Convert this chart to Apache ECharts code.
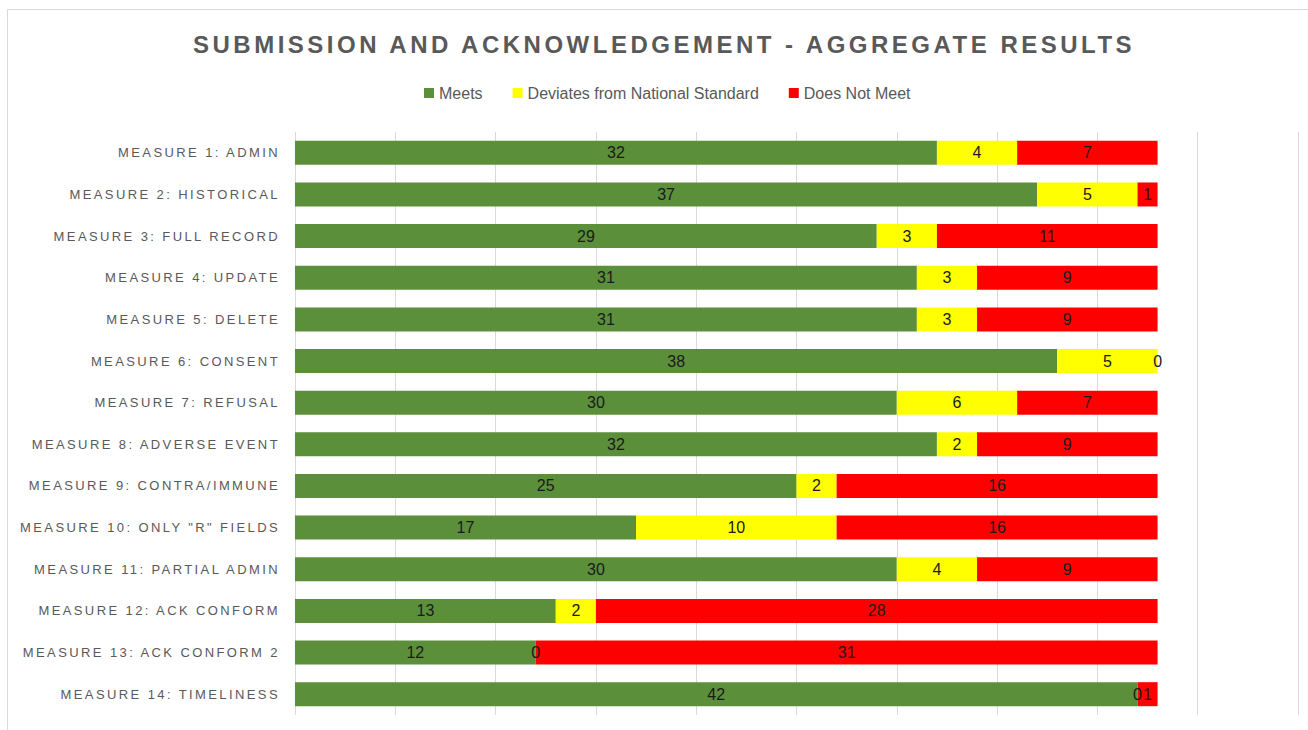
<!DOCTYPE html>
<html>
<head>
<meta charset="utf-8">
<script src="https://cdn.jsdelivr.net/npm/echarts@6/dist/echarts.min.js"></script>
<style>
  html, body { margin: 0; padding: 0; background: #fff; }
  #chart { width: 1308px; height: 730px; }
  /* letter spacing for title and category labels (svg renderer) */
  #chart text[style*="24px"] { letter-spacing: 3.5px; }
  #chart text[style*="13px"] { letter-spacing: 2.4px; }
</style>
</head>
<body>
<div id="chart"></div>
<script>
var categories = [
    'MEASURE 1: ADMIN',
    'MEASURE 2: HISTORICAL',
    'MEASURE 3: FULL RECORD',
    'MEASURE 4: UPDATE',
    'MEASURE 5: DELETE',
    'MEASURE 6: CONSENT',
    'MEASURE 7: REFUSAL',
    'MEASURE 8: ADVERSE EVENT',
    'MEASURE 9: CONTRA/IMMUNE',
    'MEASURE 10: ONLY "R" FIELDS',
    'MEASURE 11: PARTIAL ADMIN',
    'MEASURE 12: ACK CONFORM',
    'MEASURE 13: ACK CONFORM 2',
    'MEASURE 14: TIMELINESS'
];
var meets    = [32, 37, 29, 31, 31, 38, 30, 32, 25, 17, 30, 13, 12, 42];
var deviates = [4, 5, 3, 3, 3, 5, 6, 2, 2, 10, 4, 2, 0, 0];
var notMeet  = [7, 1, 11, 9, 9, 0, 7, 9, 16, 16, 9, 28, 31, 1];

var chart = echarts.init(document.getElementById('chart'), null, { renderer: 'svg' });

// label style shared by all series
function barLabel() {
    return {
        show: true,
        position: 'inside',
        color: '#1a1a1a',
        fontSize: 16,
        fontFamily: 'Liberation Sans'
    };
}

var option = {
    animation: false,
    title: {
        text: 'SUBMISSION AND ACKNOWLEDGEMENT - AGGREGATE RESULTS',
        left: 188,
        top: 27,
        textStyle: {
            color: '#595959',
            fontSize: 24,
            fontWeight: 'bold',
            fontFamily: 'Liberation Sans'
        }
    },
    legend: {
        top: 80,
        left: 419,
        icon: 'rect',
        itemWidth: 10,
        itemHeight: 10,
        itemGap: 30,
        textStyle: { color: '#595959', fontSize: 16, fontFamily: 'Liberation Sans' },
        data: ['Meets', 'Deviates from National Standard', 'Does Not Meet']
    },
    grid: { left: 295, right: 10, top: 132, bottom: 15 },
    xAxis: {
        type: 'value',
        min: 0,
        max: 50,
        interval: 5,
        axisLabel: { show: false },
        axisLine: { show: false },
        axisTick: { show: false },
        splitLine: { lineStyle: { color: '#d9d9d9', width: 1 } }
    },
    yAxis: {
        type: 'category',
        inverse: true,
        data: categories,
        axisLine: { show: false },
        axisTick: { show: false },
        axisLabel: {
            color: '#595959',
            fontSize: 13,
            fontFamily: 'Liberation Sans',
            margin: 15
        }
    },
    graphic: [{
        type: 'rect',
        shape: { x: 7.5, y: 9.5, width: 1320, height: 740 },
        style: { fill: 'none', stroke: '#d9d9d9', lineWidth: 1 },
        silent: true
    }],
    series: [{
        name: 'Meets',
        type: 'bar',
        stack: 'total',
        barWidth: 24,
        itemStyle: { color: '#5b8f3a' },
        label: barLabel(),
        data: meets
    }, {
        name: 'Deviates from National Standard',
        type: 'bar',
        stack: 'total',
        barWidth: 24,
        itemStyle: { color: '#ffff00' },
        label: barLabel(),
        data: deviates
    }, {
        name: 'Does Not Meet',
        type: 'bar',
        stack: 'total',
        barWidth: 24,
        itemStyle: { color: '#ff0000' },
        label: barLabel(),
        data: notMeet
    }]
};

chart.setOption(option);
</script>
</body>
</html>
